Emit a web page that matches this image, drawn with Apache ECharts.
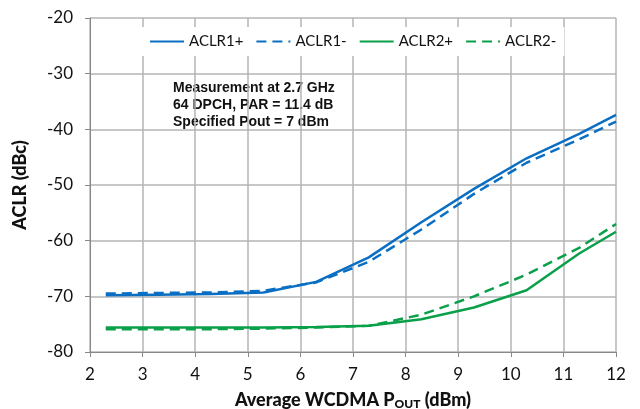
<!DOCTYPE html>
<html>
<head>
<meta charset="utf-8">
<script src="https://cdn.jsdelivr.net/npm/echarts@6/dist/echarts.min.js"></script>
<style>
  html, body { margin: 0; padding: 0; background: #fff; }
  #chart { width: 640px; height: 409px; }
</style>
</head>
<body>
<div id="chart"></div>
<script>
var pout = [2.3, 3.3, 4.3, 5.3, 6.3, 7.3, 8.3, 9.3, 10.3, 11.3, 12];
var aclr1Plus  = [-69.8, -69.7, -69.6, -69.3, -67.4, -63.0, -56.7, -50.7, -45.2, -40.8, -37.4];
var aclr1Minus = [-69.5, -69.4, -69.3, -69.0, -67.5, -63.8, -58.0, -51.6, -46.0, -41.8, -38.6];
var aclr2Plus  = [-75.6, -75.6, -75.6, -75.6, -75.5, -75.3, -74.1, -72.0, -68.9, -62.3, -58.4];
var aclr2Minus = [-75.9, -75.9, -75.9, -75.8, -75.6, -75.3, -73.3, -70.0, -66.1, -61.3, -57.0];
var noteLines = ['Measurement at 2.7 GHz', '64 DPCH, PAR = 11.4 dB', 'Specified Pout = 7 dBm'];

var BLUE = '#0a6fc2';
var GREEN = '#0aa04a';
var font = 'Lato, "Open Sans", sans-serif';

function pairs(ys) {
  return pout.map(function (x, i) { return [x, ys[i]]; });
}
function line(name, ys, color, dashed) {
  return {
    name: name,
    type: 'line',
    data: pairs(ys),
    symbol: 'none',
    lineStyle: { color: color, width: 2.5, type: dashed ? [10, 6] : 'solid' },
    itemStyle: { color: color }
  };
}

var myChart = echarts.init(document.getElementById('chart'));

var option = {
  animation: false,
  backgroundColor: '#fff',
  grid: { left: 90, right: 24, top: 18, bottom: 57, outerBoundsMode: 'none' },
  legend: {
    top: 27,
    left: 141,
    backgroundColor: '#fff',
    padding: [7, 8],
    itemGap: 12,
    itemWidth: 34,
    itemHeight: 14,
    itemStyle: { opacity: 0 },
    textStyle: { fontFamily: font, fontSize: 15, color: '#111' },
    data: ['ACLR1+', 'ACLR1-', 'ACLR2+', 'ACLR2-']
  },
  xAxis: {
    type: 'value',
    min: 2, max: 12, interval: 1,
    name: '{b|Average WCDMA P}{s|OUT}{b| (dBm)}',
    nameLocation: 'middle',
    nameGap: 38,
    nameTextStyle: {
      rich: {
        b: { fontFamily: font, fontWeight: 900, fontSize: 18, color: '#111' },
        s: { fontFamily: font, fontWeight: 900, fontSize: 12, color: '#111', verticalAlign: 'bottom', padding: [8, 0, 0, 0] }
      }
    },
    axisLine: { lineStyle: { color: '#888', width: 1 } },
    axisTick: { show: true, length: 5, lineStyle: { color: '#888' } },
    axisLabel: { fontFamily: font, fontSize: 17, color: '#111', margin: 14 },
    splitLine: { show: true, lineStyle: { color: '#b4b4b4', width: 1.5 } }
  },
  yAxis: {
    type: 'value',
    min: -80, max: -20, interval: 10,
    name: 'ACLR (dBc)',
    nameLocation: 'middle',
    nameGap: 61,
    nameTextStyle: { fontFamily: font, fontWeight: 900, fontSize: 18, color: '#111' },
    axisLine: { show: true, lineStyle: { color: '#888', width: 1 } },
    axisTick: { show: true, length: 5, lineStyle: { color: '#888' } },
    axisLabel: { fontFamily: font, fontSize: 17, color: '#111', margin: 17 },
    splitLine: { show: true, lineStyle: { color: '#b4b4b4', width: 1.5 } }
  },
  graphic: [{
    type: 'text',
    left: 168,
    top: 77,
    style: {
      text: noteLines.join('\n'),
      font: 'bold 14px "Liberation Sans", Arial, sans-serif',
      fill: '#111',
      lineHeight: 17,
      backgroundColor: '#fff',
      padding: [3, 5]
    }
  }],
  series: [
    line('ACLR1+', aclr1Plus, BLUE, false),
    line('ACLR1-', aclr1Minus, BLUE, true),
    line('ACLR2+', aclr2Plus, GREEN, false),
    line('ACLR2-', aclr2Minus, GREEN, true)
  ]
};

myChart.setOption(option);
</script>
</body>
</html>
